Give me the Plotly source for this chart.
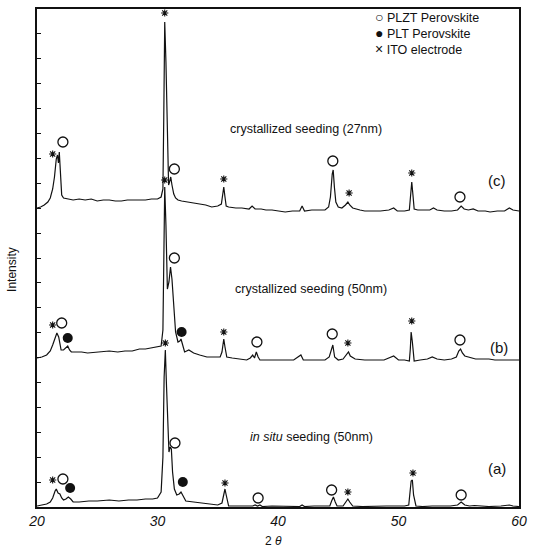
import plotly.graph_objects as go

# ---- data: 2theta (deg) and intensity (a.u.) ----
c_theta = [20.0,20.3,20.6,20.9,21.1,21.3,21.45,21.6,21.7,21.78,21.85,21.95,22.05,22.2,22.5,23.0,23.5,24.0,24.5,25.0,25.5,26.0,26.5,27.0,27.5,28.0,28.5,29.0,29.5,30.0,30.3,30.45,30.52,30.6,30.7,30.8,30.92,31.0,31.1,31.2,31.35,31.5,31.7,32.0,32.5,33.0,33.5,34.0,34.5,35.0,35.3,35.42,35.5,35.6,35.7,35.9,36.5,37.0,37.6,37.85,38.1,38.6,39.0,39.5,40.0,40.6,41.2,41.8,42.0,42.2,42.8,43.4,43.9,44.2,44.35,44.5,44.58,44.68,44.8,45.0,45.3,45.6,45.8,45.95,46.2,46.8,47.2,47.8,48.5,49.2,49.6,49.9,50.5,50.9,51.0,51.1,51.2,51.3,51.6,52.2,52.6,52.9,53.2,53.8,54.4,54.9,55.2,55.45,55.8,56.2,56.6,57.2,57.6,58.2,58.8,59.2,59.5,60.0]
c_int = [299,300,302,305,309,318,330,348,352,344,355,335,312,309,308,307,308,307,308,306,307,307,306,306,307,307,307,307,308,308,310,318,390,485,445,372,322,325,330,322,313,309,307,306,305,304,303,302,300,301,303,312,320,310,301,300,299,299,298,301,298,298,297,297,296,295,296,296,301,296,297,297,297,300,310,333,337,320,305,300,299,302,305,302,299,297,296,296,296,297,299,296,296,297,310,325,312,298,297,297,297,299,297,296,296,297,301,298,297,298,296,296,295,296,296,299,297,296]

b_theta = [20.0,20.4,20.8,21.1,21.3,21.5,21.65,21.8,21.9,22.0,22.2,22.4,22.55,22.7,22.85,23.2,23.7,24.2,24.9,25.5,26.0,26.7,27.3,27.9,28.5,29.0,29.5,30.0,30.3,30.45,30.52,30.6,30.7,30.82,30.95,31.08,31.2,31.35,31.5,31.7,31.85,31.95,32.1,32.25,32.6,33.0,33.5,34.1,34.7,35.2,35.35,35.5,35.6,35.75,36.2,36.8,37.4,37.7,37.9,38.05,38.2,38.35,38.5,39.2,40.0,40.6,41.3,41.9,42.1,42.8,43.4,43.9,44.25,44.45,44.55,44.7,45.0,45.4,45.7,45.85,46.0,46.4,47.2,48.0,48.8,49.6,50.0,50.5,50.9,50.98,51.05,51.15,51.3,51.8,52.4,52.8,53.2,53.8,54.4,54.8,55.0,55.15,55.3,55.5,55.9,56.4,57.0,57.5,58.0,58.5,59.2,60.0]
b_int = [149,150,152,156,162,170,174,170,165,157,157,159,161,157,155,155,155,154,155,156,156,155,156,156,158,158,159,160,161,177,255,320,282,218,225,240,228,195,175,165,166,168,160,155,157,154,152,150,150,150,155,168,160,150,149,148,147,149,152,149,155,150,147,147,147,147,147,152,147,147,147,147,150,160,162,150,147,148,153,155,151,148,147,147,147,151,147,147,146,158,175,165,146,147,148,150,148,147,148,150,156,158,154,151,150,148,148,148,147,147,147,147]

a_theta = [20.0,20.4,20.8,21.1,21.3,21.5,21.6,21.75,21.9,22.05,22.2,22.4,22.6,22.8,23.0,23.5,24.3,25.0,26.0,26.8,27.6,28.3,29.0,29.6,30.0,30.3,30.45,30.55,30.65,30.75,30.85,30.95,31.05,31.15,31.25,31.4,31.6,31.8,31.95,32.1,32.35,33.0,33.6,34.1,35.0,35.35,35.5,35.6,35.7,35.9,36.5,37.2,37.9,38.1,38.3,38.5,38.7,39.5,40.3,41.0,41.8,42.0,42.2,43.0,43.8,44.3,44.45,44.6,44.75,44.9,45.4,45.65,45.8,45.95,46.2,47.0,48.0,49.0,49.8,50.5,50.85,50.95,51.05,51.15,51.25,51.45,52.0,52.8,53.5,54.3,54.9,55.2,55.5,55.9,56.3,56.8,57.5,58.5,59.2,59.5,60.0]
a_int = [1,2,3,5,9,16,18,14,13,9,7,8,10,8,5,5,6,6,7,6,7,7,8,8,9,15,50,130,157,120,75,55,60,58,35,18,12,13,15,11,6,5,4,3,2,4,14,18,12,1,1,1,1,2,1,2,0.5,1,1,0.5,0.5,2,0.5,1,1,1,6,10,5,1,1,5,8,5,1,0.5,1,1,1,1,2,12,26,27,12,1,0.5,1,1,1,2,5,2,1,1.5,1,0.5,1,2,1,0.5]

# peak markers (2theta, intensity)
plzt_theta = [22.15,31.4,44.55,55.1, 22.05,31.4,38.25,44.5,55.1, 22.15,31.45,38.35,44.45,55.2]
plzt_int   = [365,338,346,310, 184,249,165,173,167, 28,64,9,17,12]
plt_theta = [22.55,32.0, 22.75,32.1]
plt_int   = [169,175, 19,25]
ito_theta = [21.3,30.6,35.5,45.9,51.1, 21.3,30.6,35.5,45.8,51.1, 21.3,30.65,35.6,45.8,51.2]
ito_int   = [353,494,328,314,334, 182,327,175,164,186, 27,164,24,15,34]

x_ticks = [20,30,40,50,60]
y_ticks = [i*24.9 for i in range(1,20)]

FONT = "Liberation Sans"
fig = go.Figure()
for th, it in [(c_theta,c_int),(b_theta,b_int),(a_theta,a_int)]:
    fig.add_trace(go.Scatter(x=th, y=it, mode="lines",
                             line=dict(color="#111", width=1.2), showlegend=False))
fig.add_trace(go.Scatter(x=plzt_theta, y=plzt_int, mode="markers", showlegend=False,
                         marker=dict(symbol="circle-open", size=10, color="#111", line=dict(width=1.3))))
fig.add_trace(go.Scatter(x=plt_theta, y=plt_int, mode="markers", showlegend=False,
                         marker=dict(symbol="circle", size=10, color="#111")))
fig.add_trace(go.Scatter(x=ito_theta, y=ito_int, mode="markers", showlegend=False,
                         marker=dict(symbol="asterisk-open", size=6, color="#111", line=dict(width=1.1, color="#111"))))

ann = []
def txt(x, y, s, size=12.5, xanchor="center"):
    ann.append(dict(x=x, y=y, xref="x", yref="y", text=s, showarrow=False,
                    xanchor=xanchor, yanchor="middle",
                    font=dict(family=FONT, size=size, color="#111")))

txt(42.3, 378, "crystallized seeding (27nm)")
txt(58.2, 327, "(c)", 15)
txt(42.7, 218, "crystallized seeding (50nm)")
txt(58.3, 160, "(b)", 15)
txt(42.8, 70, "<i>in situ</i> seeding (50nm)")
txt(58.2, 39, "(a)", 15)
SYM = "<span style='font-size:14px'>%s</span> %s"
txt(47.85, 490, SYM % ("○", "PLZT Perovskite"), 12.5, "left")
txt(47.85, 474, SYM % ("●", "PLT Perovskite"), 12.5, "left")
txt(47.85, 458, SYM % ("×", "ITO electrode"), 12.5, "left")

ann.append(dict(x=0, y=0.476, xref="paper", yref="paper", text="Intensity", textangle=-90,
                xanchor="center", yanchor="middle",
                showarrow=False, xshift=-25, font=dict(family=FONT, size=12, color="#111")))
ann.append(dict(x=0.49, y=0, xref="paper", yref="paper", text="2 <i>θ</i>",
                xanchor="center", yanchor="middle",
                showarrow=False, yshift=-34, font=dict(family=FONT, size=12, color="#111")))

fig.update_layout(
    width=534, height=554, margin=dict(l=37, r=7, t=9, b=47),
    paper_bgcolor="white", plot_bgcolor="white", annotations=ann,
    xaxis=dict(range=[20,60], tickvals=x_ticks, showgrid=False, zeroline=False,
               showline=True, mirror=True, linecolor="#111", linewidth=1.5, ticks="",
               tickfont=dict(family=FONT, size=14, color="#111", style="italic")),
    yaxis=dict(range=[0,498], tickvals=y_ticks, showticklabels=False, showgrid=False,
               zeroline=False, showline=True, mirror=True, linecolor="#111", linewidth=1.5,
               ticks="inside", ticklen=4, tickcolor="#111"),
)
fig.write_html("out.html", config={"displayModeBar": False},
               post_script="document.body.style.margin='0';")
